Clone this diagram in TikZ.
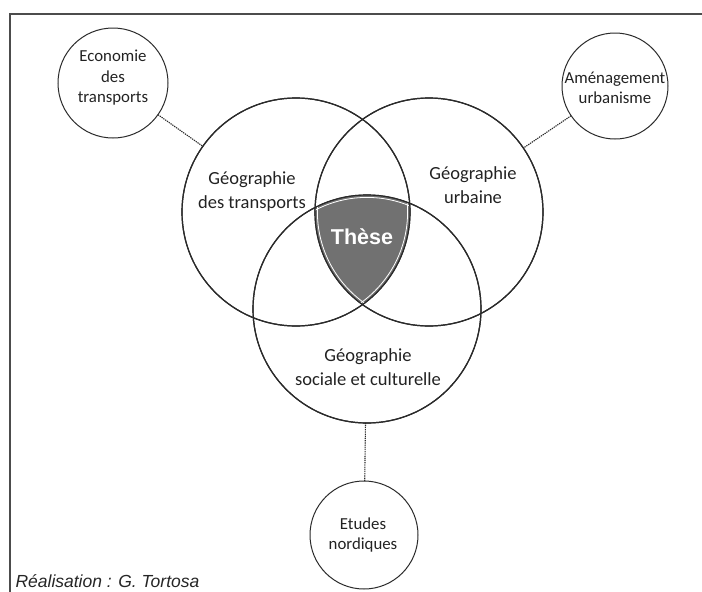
\documentclass[tikz,border=0pt]{standalone}
\usepackage{fontspec}
\setmainfont{Carlito}
\newfontfamily\arialfont{Liberation Sans}
\usetikzlibrary{positioning}

\definecolor{trait}{HTML}{2A2A2A}
\definecolor{texte}{HTML}{222222}
\definecolor{theseGris}{HTML}{717171}

\tikzset{
  domaine/.style={draw=trait, line width=1.2pt, circle, minimum size=228pt, inner sep=0pt, outer sep=0pt},
  voisin/.style={draw=trait, line width=1pt, circle, minimum size=108pt, inner sep=0pt, outer sep=0pt},
  grandtexte/.style={text=texte, align=center, font=\fontsize{18.5}{24}\selectfont},
  petittexte/.style={text=texte, align=center, font=\fontsize{16.8}{20.5}\selectfont},
  liaison/.style={draw=trait, line width=1.1pt, dash pattern=on 1.3pt off 0.9pt}
}

\begin{document}
\begin{tikzpicture}[x=1pt, y=-1pt]
				\useasboundingbox (0,0) rectangle (702,592);

				% Cadre
				\draw[draw=black!70, line width=1.1pt] (10,592) -- (10,14) -- (702,14);

				% Trois domaines
				\node[domaine] (transp) at (296,212) {};
				\node[domaine] (urb) at (429,212) {};
				\node[domaine] (social) at (367,309) {};

				% Intersection : la these
				\begin{scope}
					\clip (transp.center) circle (114);
					\clip (urb.center) circle (114);
					\fill[theseGris] (social.center) circle (114);
					\draw[white, line width=0.8pt] (transp.center) circle (111.6);
					\draw[white, line width=0.8pt] (urb.center) circle (111.6);
					\draw[white, line width=0.8pt] (social.center) circle (111.6);
				\end{scope}
				\draw[trait, line width=1.2pt] (transp.center) circle (114);
				\draw[trait, line width=1.2pt] (urb.center) circle (114);
				\draw[trait, line width=1.2pt] (social.center) circle (114);

				% Textes des domaines
				\node[grandtexte] (transpTxt) at (252,192) {Géographie\\des transports};
				\node[grandtexte] (urbTxt) at (473,185) {Géographie\\urbaine};
				\node[grandtexte] (socialTxt) at (368,367) {Géographie\\sociale et culturelle};
				\node[text=white, font=\arialfont\bfseries\fontsize{21.5}{24}\selectfont] (these) at (362,237) {Thèse};

				% Disciplines voisines
				\node[voisin, minimum size=110pt] (eco) at (113,83) {};
				\node[petittexte] (ecoTxt) at (113,78) {Economie\\des\\transports};
				\node[voisin, minimum size=106pt] (amen) at (615,86) {};
				\node[petittexte] (amenTxt) at (615,88) {Aménagement\\urbanisme};
				\node[voisin] (nord) at (364,535) {};
				\node[petittexte] (nordTxt) at (363,535) {Etudes\\nordiques};

				% Liaisons
				\draw[liaison] (eco) -- (transp);
				\draw[liaison] (amen) -- (urb);
				\draw[liaison] (nord) -- (social);

				% Source
				\node[anchor=west, text=black!85, font=\arialfont\itshape\fontsize{17.5}{20}\selectfont] (source) at (12,581) {Réalisation : G. Tortosa};
			\end{tikzpicture}
\end{document}
